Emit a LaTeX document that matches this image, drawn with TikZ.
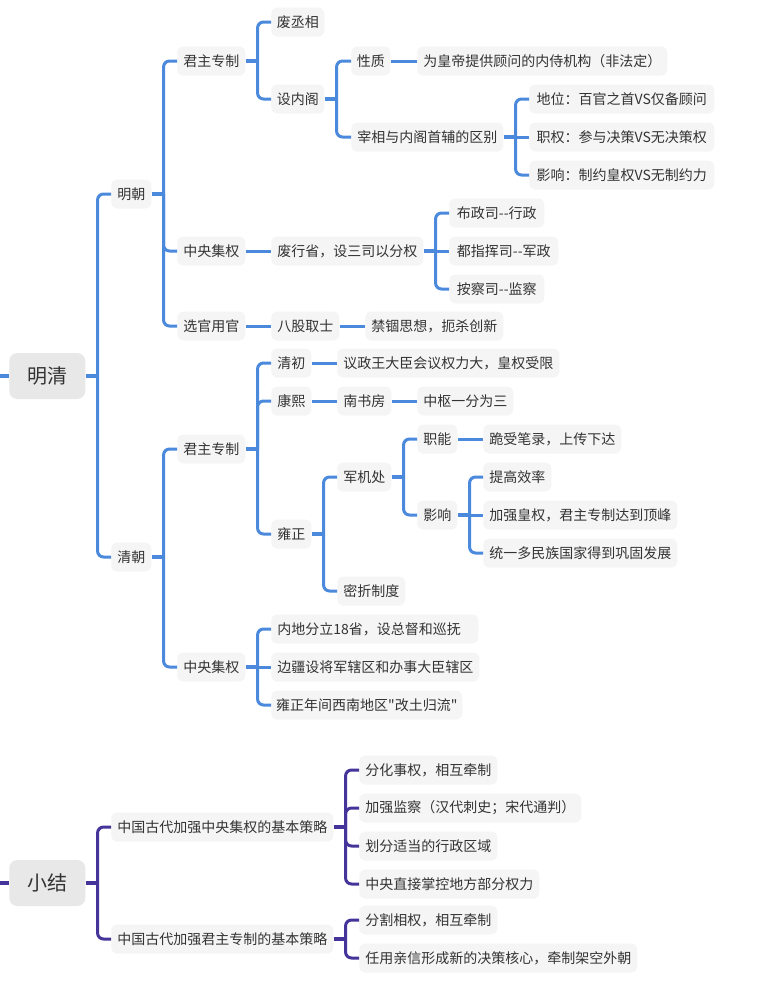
\documentclass[tikz,border=0pt]{standalone}
\usepackage{fontspec}
\newfontfamily\cjk{Noto Sans CJK SC}
\usetikzlibrary{calc}
\definecolor{mblue}{HTML}{4A89DC}
\definecolor{mpurp}{HTML}{45359A}
\definecolor{nodefill}{HTML}{F5F5F5}
\definecolor{rootfill}{HTML}{E8E8E8}
\definecolor{txt}{HTML}{333333}
\newcommand\mmstub[2][mblue]{\coordinate (#2-j) at ($(#2.east)+(12,0)$);\draw[stub,draw=#1] (#2.east) -- (#2-j);}
\newcommand\mmbend[3][mblue]{\draw[conn,draw=#1,rounded corners=4.5pt] (#2-j) |- (#3.west);}
\newcommand\mmflat[3][mblue]{\draw[conn,draw=#1] (#2-j) -- (#2-j -| #3.west);}
\newcommand\mmlink[3][mblue]{\draw[conn,draw=#1] (#2.east) -- (#3.west);}
\begin{document}
\begin{tikzpicture}[x=0.75pt,y=-0.75pt,
  box/.style={fill=nodefill, rounded corners=4.5pt, anchor=west, minimum height=21.75pt,
    inner xsep=0pt, inner ysep=0pt, text=txt, font=\cjk\fontsize{10.5pt}{12.5pt}\selectfont},
  root/.style={fill=rootfill, rounded corners=6pt, anchor=west, minimum height=34.5pt,
    minimum width=57pt, inner xsep=0pt, text=txt, font=\cjk\fontsize{15pt}{18pt}\selectfont},
  bw/.style={minimum width=#1*0.75pt},
  conn/.style={line width=2.25pt},
  stub/.style={line width=3pt}]
\useasboundingbox (0,0) rectangle (764,1003);

% ---------- 明清 ----------
\node[root] (mq) at (9,376) {明清};
\node[box,bw=40] (mc) at (111,194) {明朝};
\node[box,bw=40] (qc) at (111,557) {清朝};
\node[box,bw=68] (m1) at (177,61) {君主专制};
\node[box,bw=68] (m2) at (177,251) {中央集权};
\node[box,bw=68] (m3) at (177,326) {选官用官};
\node[box,bw=53] (m11) at (271,22) {废丞相};
\node[box,bw=53] (m12) at (271,99) {设内阁};
\node[box,bw=39] (m121) at (351,61) {性质};
\node[box,bw=250] (m1211) at (417,61) {为皇帝提供顾问的内侍机构（非法定）};
\node[box,bw=152] (m122) at (351,137) {宰相与内阁首辅的区别};
\node[box,bw=185] (m1221) at (529,99) {地位：百官之首VS仅备顾问};
\node[box,bw=185] (m1222) at (529,137) {职权：参与决策VS无决策权};
\node[box,bw=185] (m1223) at (529,175) {影响：制约皇权VS无制约力};
\node[box,bw=152] (m21) at (271,251) {废行省，设三司以分权};
\node[box,bw=95] (m211) at (449,213) {布政司--行政};
\node[box,bw=109] (m212) at (449,251) {都指挥司--军政};
\node[box,bw=95] (m213) at (449,289) {按察司--监察};
\node[box,bw=68] (m31) at (271,326) {八股取士};
\node[box,bw=138] (m311) at (365,326) {禁锢思想，扼杀创新};

\node[box,bw=68] (q1) at (177,449) {君主专制};
\node[box,bw=68] (q2) at (177,667) {中央集权};
\node[box,bw=40] (q11) at (271,363) {清初};
\node[box,bw=222] (q111) at (337,363) {议政王大臣会议权力大，皇权受限};
\node[box,bw=40] (q12) at (271,401) {康熙};
\node[box,bw=54] (q121) at (337,401) {南书房};
\node[box,bw=96] (q1211) at (417,401) {中枢一分为三};
\node[box,bw=40] (q13) at (271,534) {雍正};
\node[box,bw=54] (q131) at (337,477) {军机处};
\node[box,bw=40] (q1311) at (417,439) {职能};
\node[box,bw=138] (q13111) at (483,439) {跪受笔录，上传下达};
\node[box,bw=40] (q1312) at (417,515) {影响};
\node[box,bw=68] (q13121) at (483,477) {提高效率};
\node[box,bw=194] (q13122) at (483,515) {加强皇权，君主专制达到顶峰};
\node[box,bw=194] (q13123) at (483,553) {统一多民族国家得到巩固发展};
\node[box,bw=68] (q132) at (337,591) {密折制度};
\node[box,bw=207] (q21) at (271,629) {\makebox[146.25pt][l]{内地分立18省，设总督和巡抚}};
\node[box,bw=208] (q22) at (271,667) {边疆设将军辖区和办事大臣辖区};
\node[box,bw=191] (q23) at (271,705) {雍正年间西南地区"改土归流"};

% connectors (blue)
\coordinate (in1) at (0,376);
\draw[stub,draw=mblue] (in1) -- (mq.west);
\mmstub{mq} \mmbend{mq}{mc} \mmbend{mq}{qc}
\mmstub{mc} \mmbend{mc}{m1} \mmbend{mc}{m2} \mmbend{mc}{m3}
\mmstub{m1} \mmbend{m1}{m11} \mmbend{m1}{m12}
\mmstub{m12} \mmbend{m12}{m121} \mmbend{m12}{m122}
\mmlink{m121}{m1211}
\mmstub{m122} \mmbend{m122}{m1221} \mmflat{m122}{m1222} \mmbend{m122}{m1223}
\mmlink{m2}{m21}
\mmstub{m21} \mmbend{m21}{m211} \mmflat{m21}{m212} \mmbend{m21}{m213}
\mmlink{m3}{m31} \mmlink{m31}{m311}
\mmstub{qc} \mmbend{qc}{q1} \mmbend{qc}{q2}
\mmstub{q1} \mmbend{q1}{q11} \mmbend{q1}{q12} \mmbend{q1}{q13}
\mmlink{q11}{q111}
\mmlink{q12}{q121} \mmlink{q121}{q1211}
\mmstub{q13} \mmbend{q13}{q131} \mmbend{q13}{q132}
\mmstub{q131} \mmbend{q131}{q1311} \mmbend{q131}{q1312}
\mmlink{q1311}{q13111}
\mmstub{q1312} \mmbend{q1312}{q13121} \mmflat{q1312}{q13122} \mmbend{q1312}{q13123}
\mmstub{q2} \mmbend{q2}{q21} \mmflat{q2}{q22} \mmbend{q2}{q23}

% ---------- 小结 ----------
\node[root] (xj) at (9,883) {小结};
\node[box,bw=222] (s1) at (111,827) {中国古代加强中央集权的基本策略};
\node[box,bw=222] (s2) at (111,939) {中国古代加强君主专制的基本策略};
\node[box,bw=138] (s11) at (359,770) {分化事权，相互牵制};
\node[box,bw=222] (s12) at (359,808) {加强监察（汉代刺史；宋代通判）};
\node[box,bw=138] (s13) at (359,846) {划分适当的行政区域};
\node[box,bw=180] (s14) at (359,884) {中央直接掌控地方部分权力};
\node[box,bw=138] (s21) at (359,920) {分割相权，相互牵制};
\node[box,bw=278] (s22) at (359,958) {任用亲信形成新的决策核心，牵制架空外朝};

\coordinate (in2) at (0,883);
\draw[stub,draw=mpurp] (in2) -- (xj.west);
\mmstub[mpurp]{xj} \mmbend[mpurp]{xj}{s1} \mmbend[mpurp]{xj}{s2}
\mmstub[mpurp]{s1} \mmbend[mpurp]{s1}{s11} \mmbend[mpurp]{s1}{s12} \mmbend[mpurp]{s1}{s13} \mmbend[mpurp]{s1}{s14}
\mmstub[mpurp]{s2} \mmbend[mpurp]{s2}{s21} \mmbend[mpurp]{s2}{s22}
\end{tikzpicture}
\end{document}
